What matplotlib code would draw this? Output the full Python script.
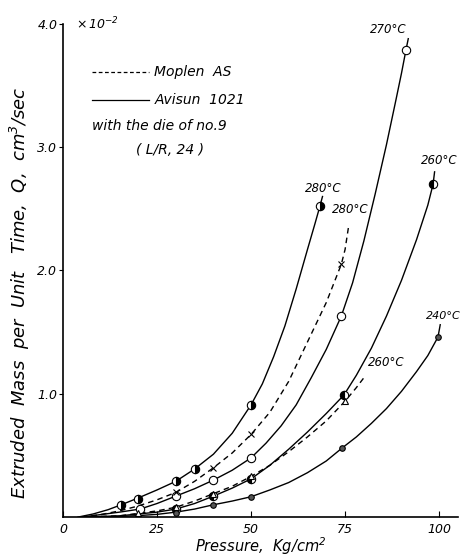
import matplotlib.pyplot as plt

plt.rcParams['font.family'] = ['DejaVu Sans']
plt.rcParams['font.style'] = 'italic'

# measured points (pressure kg/cm2, Q x 1e-2 cm3/sec)
av280_p = [15.5, 20, 30, 35, 50, 68.3]
av280_q = [0.10, 0.15, 0.29, 0.39, 0.91, 2.52]
av270_p = [20.5, 30, 40, 50, 74, 91.2]
av270_q = [0.065, 0.17, 0.30, 0.48, 1.63, 3.79]
av260_p = [30, 40, 50, 74.7, 98.4]
av260_q = [0.065, 0.17, 0.31, 0.99, 2.70]
av240_p = [30, 40, 50, 74.2, 99.7]
av240_q = [0.035, 0.10, 0.165, 0.56, 1.46]
mo280_p = [30, 40, 50, 74]
mo280_q = [0.20, 0.40, 0.67, 2.05]
mo260_p = [20, 30, 40, 50, 75]
mo260_q = [0.03, 0.08, 0.19, 0.33, 0.94]

# curves as traced on the sheet, including the short leader to each label
av280_cp = [4, 8, 12, 15.5, 20, 25, 30, 35, 40, 45, 50, 53, 56, 59, 62, 65, 67, 68.3, 69]
av280_cq = [0, 0.025, 0.06, 0.10, 0.155, 0.22, 0.29, 0.39, 0.51, 0.68, 0.91, 1.08, 1.30,
            1.55, 1.85, 2.17, 2.38, 2.52, 2.60]
av270_cp = [5, 10, 15, 20.5, 25, 30, 35, 40, 45, 50, 54, 58, 62, 66, 70, 74, 77, 80, 83, 86,
            88.5, 90, 91.2, 91.8]
av270_cq = [0, 0.02, 0.04, 0.065, 0.11, 0.17, 0.23, 0.30, 0.38, 0.48, 0.60, 0.74, 0.91, 1.13,
            1.36, 1.63, 1.90, 2.24, 2.62, 3.02, 3.38, 3.60, 3.79, 3.88]
av260_cp = [5, 15, 20, 25, 30, 35, 40, 45, 50, 55, 60, 65, 70, 74.7, 78, 82, 86, 90, 94, 97,
            98.4, 98.8]
av260_cq = [0, 0.01, 0.025, 0.04, 0.065, 0.11, 0.17, 0.235, 0.31, 0.42, 0.55, 0.69, 0.84,
            0.99, 1.15, 1.37, 1.63, 1.92, 2.25, 2.53, 2.70, 2.80]
av240_cp = [7, 15, 20, 25, 30, 35, 40, 45, 50, 55, 60, 65, 70, 74.2, 78, 82, 86, 90, 94, 97,
            99.7, 100.3]
av240_cq = [0, 0.005, 0.012, 0.022, 0.04, 0.065, 0.10, 0.13, 0.165, 0.22, 0.28, 0.36, 0.455,
            0.56, 0.65, 0.76, 0.88, 1.02, 1.18, 1.31, 1.46, 1.56]
mo280_cp = [5, 10, 15, 20, 25, 30, 35, 40, 45, 50, 55, 60, 65, 70, 74, 75, 76]
mo280_cq = [0, 0.02, 0.05, 0.09, 0.14, 0.20, 0.29, 0.40, 0.52, 0.67, 0.85, 1.10, 1.42, 1.74,
            2.05, 2.17, 2.37]
mo260_cp = [5, 15, 20, 25, 30, 35, 40, 45, 50, 55, 60, 65, 70, 75, 78, 80.5]
mo260_cq = [0, 0.01, 0.03, 0.05, 0.08, 0.13, 0.19, 0.25, 0.33, 0.42, 0.53, 0.65, 0.78, 0.94,
            1.05, 1.15]

xticks = [0, 25, 50, 75, 100]
xticklabels = ['0', '25', '50', '75', '100']
yticks = [1.0, 2.0, 3.0, 4.0]
yticklabels = ['1.0', '2.0', '3.0', '4.0']

fig = plt.figure(figsize=(4.63, 5.56), dpi=100)
ax = fig.add_axes([0.136, 0.070, 0.853, 0.887])

lw = 1.0
ax.plot(av280_cp, av280_cq, 'k-', lw=lw)
ax.plot(av270_cp, av270_cq, 'k-', lw=lw)
ax.plot(av260_cp, av260_cq, 'k-', lw=lw)
ax.plot(av240_cp, av240_cq, 'k-', lw=lw)
ax.plot(mo280_cp, mo280_cq, 'k--', lw=lw, dashes=(4, 3))
ax.plot(mo260_cp, mo260_cq, 'k--', lw=lw, dashes=(4, 3))

ax.plot(av280_p, av280_q, 'o', ms=6, mfc='k', mec='k', fillstyle='right',
        markerfacecoloralt='white', mew=0.8)
ax.plot(av270_p, av270_q, 'o', ms=6, mfc='white', mec='k', mew=0.8)
ax.plot(av260_p, av260_q, 'o', ms=6, mfc='k', mec='k', fillstyle='left',
        markerfacecoloralt='white', mew=0.8)
ax.plot(av240_p, av240_q, 'o', ms=4, mfc='#555555', mec='k', mew=0.8)
ax.plot(mo280_p, mo280_q, 'x', ms=4.5, mec='k', mew=0.8)
ax.plot(mo260_p, mo260_q, '^', ms=4.5, mfc='white', mec='k', mew=0.8)

# temperature labels
tfs = 8.5
ax.text(69.3, 2.61, '280°C', ha='center', va='bottom', fontsize=tfs)
ax.text(76.3, 2.44, '280°C', ha='center', va='bottom', fontsize=tfs)
ax.text(86.5, 3.90, '270°C', ha='center', va='bottom', fontsize=tfs)
ax.text(100.0, 2.84, '260°C', ha='center', va='bottom', fontsize=tfs)
ax.text(86.0, 1.20, '260°C', ha='center', va='bottom', fontsize=tfs)
ax.text(101.0, 1.59, '240°C', ha='center', va='bottom', fontsize=8)

# legend block
ax.plot([7.7, 23], [3.61, 3.61], 'k--', lw=0.9, dashes=(3, 2))
ax.plot([7.7, 23], [3.38, 3.38], 'k-', lw=0.9)
ax.text(24.3, 3.61, 'Moplen  AS', va='center', fontsize=10)
ax.text(24.3, 3.38, 'Avisun  1021', va='center', fontsize=10)
ax.text(7.7, 3.17, 'with the die of no.9', va='center', fontsize=10)
ax.text(19.5, 2.98, '( L/R, 24 )', va='center', fontsize=10)

ax.set_xlim(0, 105)
ax.set_ylim(0, 4.0)
ax.spines['top'].set_visible(False)
ax.spines['right'].set_visible(False)
ax.spines['left'].set_linewidth(1.2)
ax.spines['bottom'].set_linewidth(1.2)

ax.set_xticks(xticks)
ax.set_xticklabels(xticklabels, fontsize=9)
ax.set_yticks(yticks)
ax.set_yticklabels(yticklabels, fontsize=9)
ax.tick_params(axis='x', direction='in', length=4, pad=4)
ax.tick_params(axis='y', direction='out', length=3, pad=1)

ax.text(3.5, 4.0, r'$\times\,10^{-2}$', va='center', ha='left', fontsize=9)

ax.set_xlabel('Pressure,  Kg/cm$^2$', fontsize=10.5, labelpad=0)
ax.set_ylabel('Extruded  Mass  per  Unit   Time,  Q,  cm$^3$/sec', fontsize=13)
ax.yaxis.set_label_coords(-0.078, 0.455)

fig.savefig('out.png', dpi=100)
